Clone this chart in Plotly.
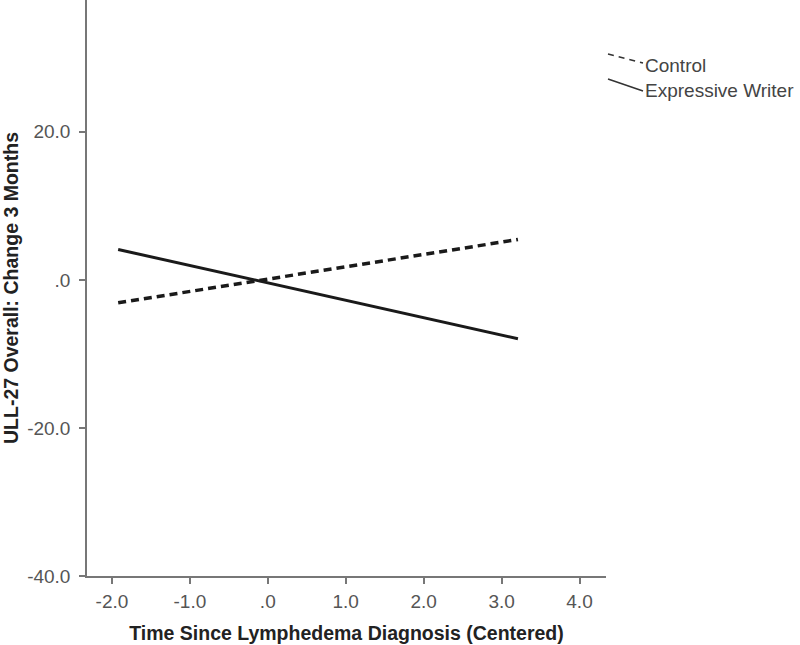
import plotly.graph_objects as go

# Data
series_names = ["Control", "Expressive Writer"]
x_values = [-1.92, 3.21]
control_y = [-3.1, 5.45]
expressive_y = [4.1, -7.95]

x_tickvals = [-2, -1, 0, 1, 2, 3, 4]
x_ticktext = ["-2.0", "-1.0", ".0", "1.0", "2.0", "3.0", "4.0"]
y_tickvals = [-40, -20, 0, 20]
y_ticktext = ["-40.0", "-20.0", ".0", "20.0"]

FONT = "Liberation Sans, Arial"

fig = go.Figure()
fig.add_trace(go.Scatter(x=x_values, y=control_y, mode="lines", name=series_names[0],
                         line=dict(color="#1a1a1a", width=3.5, dash="8px,5px"), showlegend=False))
fig.add_trace(go.Scatter(x=x_values, y=expressive_y, mode="lines", name=series_names[1],
                         line=dict(color="#1a1a1a", width=3), showlegend=False))

axis_common = dict(showgrid=False, zeroline=False, showline=True, linecolor="#777",
                   linewidth=1.5, ticks="outside", ticklen=6, tickwidth=1.5, tickcolor="#777",
                   tickfont=dict(family=FONT, size=19, color="#555"))

fig.update_xaxes(range=[-2.32, 4.34], tickvals=x_tickvals, ticktext=x_ticktext,
                 ticklabelstandoff=1,
                 title=dict(text="<b>Time Since Lymphedema Diagnosis (Centered)</b>",
                            font=dict(family=FONT, size=19.5, color="#222"), standoff=16),
                 **axis_common)
fig.update_yaxes(range=[-40, 37.8], tickvals=y_tickvals, ticktext=y_ticktext,
                 ticklabelstandoff=5,
                 title=dict(text="<b>ULL-27 Overall: Change 3 Months</b>",
                            font=dict(family=FONT, size=19.5, color="#222"), standoff=8),
                 **axis_common)

# Manual legend with slanted symbols (as in reference)
W, H, L = 519.0, 576.0, 87.0
shapes = [
    dict(type="line", xref="paper", yref="paper", x0=(608-L)/W, y0=1 - 54/H, x1=(643-L)/W, y1=1 - 63/H,
         line=dict(color="#333", width=1.5, dash="6px,5px")),
    dict(type="line", xref="paper", yref="paper", x0=(608-L)/W, y0=1 - 79/H, x1=(643-L)/W, y1=1 - 91/H,
         line=dict(color="#333", width=1.5)),
]
annotations = [
    dict(text=series_names[0], xref="paper", yref="paper", x=(643-L)/W, y=1 - 65/H,
         xanchor="left", yanchor="middle", showarrow=False,
         font=dict(family=FONT, size=19, color="#444")),
    dict(text=series_names[1], xref="paper", yref="paper", x=(643-L)/W, y=1 - 90/H,
         xanchor="left", yanchor="middle", showarrow=False,
         font=dict(family=FONT, size=19, color="#444")),
]

fig.update_layout(width=800, height=645, margin=dict(l=87, r=194, t=0, b=69),
                  plot_bgcolor="white", paper_bgcolor="white",
                  shapes=shapes, annotations=annotations)

fig.write_html("out.html", config={"displayModeBar": False},
               post_script="document.body.style.margin='0px';")
